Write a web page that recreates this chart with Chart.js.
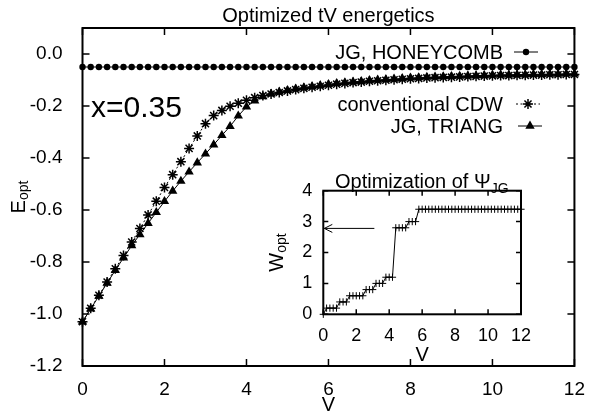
<!DOCTYPE html>
<html><head><meta charset="utf-8">
<script src="https://cdn.jsdelivr.net/npm/chart.js@4"></script>
<style>
html,body{margin:0;padding:0;background:#fff;}
#wrap{position:relative;width:589px;height:411px;overflow:hidden;background:#fff;}
#wrap canvas{position:absolute;left:0;top:0;}
</style></head><body>
<div id="wrap"><canvas id="main" width="589" height="411"></canvas><canvas id="inset" width="589" height="411"></canvas></div>
<script>
// ---- data ----
const V = [0,0.2,0.4,0.6,0.8,1.0,1.2,1.4,1.6,1.8,2.0,2.2,2.4,2.6,2.8,3.0,3.2,3.4,3.6,3.8,4.0,4.2,4.4,4.6,4.8,5.0,5.2,5.4,5.6,5.8,6.0,6.2,6.4,6.6,6.8,7.0,7.2,7.4,7.6,7.8,8.0,8.2,8.4,8.6,8.8,9.0,9.2,9.4,9.6,9.8,10.0,10.2,10.4,10.6,10.8,11.0,11.2,11.4,11.6,11.8,12.0];
const honeycomb = [-0.05,-0.05,-0.05,-0.05,-0.05,-0.05,-0.05,-0.05,-0.05,-0.05,-0.05,-0.05,-0.05,-0.05,-0.05,-0.05,-0.05,-0.05,-0.05,-0.05,-0.05,-0.05,-0.05,-0.05,-0.05,-0.05,-0.05,-0.05,-0.05,-0.05,-0.05,-0.05,-0.05,-0.05,-0.05,-0.05,-0.05,-0.05,-0.05,-0.05,-0.05,-0.05,-0.05,-0.05,-0.05,-0.05,-0.05,-0.05,-0.05,-0.05,-0.05,-0.05,-0.05,-0.05,-0.05,-0.05,-0.05,-0.05,-0.05,-0.05,-0.05];
const cdw = [-1.030,-0.978,-0.928,-0.877,-0.826,-0.775,-0.723,-0.671,-0.619,-0.566,-0.513,-0.464,-0.414,-0.363,-0.315,-0.268,-0.237,-0.217,-0.201,-0.189,-0.178,-0.168,-0.160,-0.154,-0.148,-0.142,-0.137,-0.132,-0.128,-0.124,-0.120,-0.116,-0.113,-0.110,-0.108,-0.105,-0.103,-0.101,-0.099,-0.097,-0.095,-0.094,-0.092,-0.091,-0.090,-0.089,-0.088,-0.087,-0.086,-0.085,-0.084,-0.083,-0.083,-0.082,-0.082,-0.081,-0.081,-0.080,-0.080,-0.079,-0.079];
const triang = [-1.030,-0.980,-0.931,-0.881,-0.832,-0.784,-0.737,-0.694,-0.651,-0.609,-0.567,-0.527,-0.489,-0.453,-0.418,-0.384,-0.349,-0.313,-0.278,-0.238,-0.203,-0.180,-0.164,-0.153,-0.146,-0.140,-0.134,-0.129,-0.125,-0.121,-0.117,-0.113,-0.110,-0.107,-0.105,-0.102,-0.100,-0.098,-0.096,-0.094,-0.092,-0.091,-0.089,-0.088,-0.087,-0.086,-0.085,-0.084,-0.083,-0.082,-0.081,-0.080,-0.080,-0.079,-0.079,-0.078,-0.078,-0.077,-0.077,-0.076,-0.076];
const wopt = [0,0.2,0.2,0.2,0.2,0.4,0.4,0.4,0.6,0.6,0.6,0.6,0.6,0.8,0.8,0.8,1.0,1.0,1.0,1.2,1.2,1.2,2.8,2.8,2.8,2.8,3.0,3.0,3.0,3.4,3.4,3.4,3.4,3.4,3.4,3.4,3.4,3.4,3.4,3.4,3.4,3.4,3.4,3.4,3.4,3.4,3.4,3.4,3.4,3.4,3.4,3.4,3.4,3.4,3.4,3.4,3.4,3.4,3.4,3.4,3.4];
const xTicks = [0,2,4,6,8,10,12];
const yTicks = [-1.2,-1.0,-0.8,-0.6,-0.4,-0.2,0.0];
const insetXTicks = [0,2,4,6,8,10,12];
const insetYTicks = [0,1,2,3,4];
const seriesNames = ['JG, HONEYCOMB','conventional CDW','JG, TRIANG'];
const chartTitle = 'Optimized tV energetics';
const insetTitle = 'Optimization of \u03A8';
const insetTitleSub = 'JG';
const annotationText = 'x=0.35';
const arrowFrom = [3.1, 2.78];
const arrowTo = [0, 2.78];

// ---- helpers ----
const FONT = '"Liberation Sans", Arial, Helvetica, sans-serif';
const pts = (xs, ys) => xs.map((x, i) => ({x: x, y: ys[i]}));

function drawFrame(chart, tickLen, xt, yt) {
  const {ctx, chartArea: a, scales} = chart;
  ctx.save();
  ctx.strokeStyle = '#000';
  ctx.lineWidth = 2;
  ctx.strokeRect(a.left, a.top, a.right - a.left, a.bottom - a.top);
  ctx.lineWidth = 1.5;
  ctx.beginPath();
  xt.forEach(v => {
    const x = scales.x.getPixelForValue(v);
    ctx.moveTo(x, a.bottom); ctx.lineTo(x, a.bottom - tickLen);
    ctx.moveTo(x, a.top); ctx.lineTo(x, a.top + tickLen);
  });
  yt.forEach(v => {
    const y = scales.y.getPixelForValue(v);
    ctx.moveTo(a.left, y); ctx.lineTo(a.left + tickLen, y);
    ctx.moveTo(a.right, y); ctx.lineTo(a.right - tickLen, y);
  });
  ctx.stroke();
  ctx.restore();
}

function drawRotatedSub(ctx, cx, cy, main, sub, size, subSize, shift) {
  ctx.save();
  ctx.translate(cx, cy);
  ctx.rotate(-Math.PI / 2);
  ctx.fillStyle = '#000';
  ctx.textAlign = 'left';
  ctx.textBaseline = 'alphabetic';
  ctx.font = size + 'px ' + FONT;
  const w1 = ctx.measureText(main).width;
  ctx.font = subSize + 'px ' + FONT;
  const w2 = ctx.measureText(sub).width;
  const x0 = -(w1 + w2) / 2;
  ctx.font = size + 'px ' + FONT;
  ctx.fillText(main, x0, 0);
  ctx.font = subSize + 'px ' + FONT;
  ctx.fillText(sub, x0 + w1, shift);
  ctx.restore();
}

function marker(ctx, style, x, y, r) {
  ctx.save();
  ctx.fillStyle = '#000'; ctx.strokeStyle = '#000'; ctx.lineWidth = 1.5;
  ctx.setLineDash([]);
  ctx.beginPath();
  if (style === 'circle') {
    ctx.arc(x, y, r, 0, Math.PI * 2); ctx.fill();
  } else if (style === 'triangle') {
    ctx.moveTo(x, y - r); ctx.lineTo(x + r * 0.866, y + r * 0.5); ctx.lineTo(x - r * 0.866, y + r * 0.5); ctx.closePath(); ctx.fill();
  } else if (style === 'star') {
    ctx.moveTo(x - r, y); ctx.lineTo(x + r, y);
    ctx.moveTo(x, y - r); ctx.lineTo(x, y + r);
    const d = r * 0.707;
    ctx.moveTo(x - d, y - d); ctx.lineTo(x + d, y + d);
    ctx.moveTo(x - d, y + d); ctx.lineTo(x + d, y - d);
    ctx.stroke();
  }
  ctx.restore();
}

const mainDeco = {
  id: 'mainDeco',
  afterDraw(chart) {
    const ctx = chart.ctx;
    drawFrame(chart, 7, xTicks, yTicks);
    ctx.save();
    ctx.fillStyle = '#000';
    ctx.font = '20px ' + FONT;
    ctx.textAlign = 'center'; ctx.textBaseline = 'alphabetic';
    const a = chart.chartArea;
    ctx.fillText('V', (a.left + a.right) / 2, 411);
    ctx.font = '30px ' + FONT;
    ctx.textAlign = 'left';
    ctx.fillText(annotationText, 91, 117);
    ctx.font = '20px ' + FONT;
    ctx.textAlign = 'right';
    const rows = [59, 111, 133];
    const styles = ['circle', 'star', 'triangle'];
    const dashes = [[], [2, 2.5], []];
    const mx = [526, 528, 530];
    const rr = [3.2, 5, 5.4];
    rows.forEach((by, i) => {
      ctx.fillText(seriesNames[i], 503, by);
      const cy = by - 7;
      ctx.save();
      ctx.strokeStyle = '#000'; ctx.lineWidth = 1;
      ctx.setLineDash(dashes[i]);
      ctx.beginPath(); ctx.moveTo(mx[i] - 12, cy); ctx.lineTo(mx[i] + 12, cy); ctx.stroke();
      ctx.restore();
      marker(ctx, styles[i], mx[i], cy, rr[i]);
    });
    ctx.restore();
    drawRotatedSub(ctx, 25, (a.top + a.bottom) / 2, 'E', 'opt', 20, 14, 3);
  }
};

const insetDeco = {
  id: 'insetDeco',
  afterDraw(chart) {
    const ctx = chart.ctx;
    const a = chart.chartArea;
    drawFrame(chart, 5, insetXTicks, insetYTicks);
    const sx = chart.scales.x, sy = chart.scales.y;
    const x1 = sx.getPixelForValue(arrowFrom[0]), y1 = sy.getPixelForValue(arrowFrom[1]);
    const x2 = sx.getPixelForValue(arrowTo[0]), y2 = sy.getPixelForValue(arrowTo[1]);
    ctx.save();
    ctx.strokeStyle = '#000'; ctx.lineWidth = 1;
    ctx.beginPath();
    ctx.moveTo(x1, y1); ctx.lineTo(x2 + 1, y2);
    ctx.moveTo(x2 + 9, y2 - 4); ctx.lineTo(x2 + 1, y2); ctx.lineTo(x2 + 9, y2 + 4);
    ctx.stroke();
    ctx.fillStyle = '#000';
    ctx.textBaseline = 'alphabetic';
    ctx.textAlign = 'left';
    ctx.font = '20px ' + FONT;
    ctx.fillText(insetTitle, 335, 188);
    const w = ctx.measureText(insetTitle).width;
    ctx.font = '14px ' + FONT;
    ctx.fillText(insetTitleSub, 335 + w, 193);
    ctx.font = '20px ' + FONT;
    ctx.textAlign = 'center';
    ctx.fillText('V', (a.left + a.right) / 2, 361);
    ctx.restore();
    drawRotatedSub(ctx, 283, (a.top + a.bottom) / 2, 'W', 'opt', 20, 14, 3);
  }
};

Chart.defaults.font.family = FONT;
Chart.defaults.color = '#000';

new Chart(document.getElementById('main'), {
  type: 'line',
  data: {
    datasets: [
      { label: seriesNames[0], data: pts(V, honeycomb), borderColor: '#000', backgroundColor: '#000', borderWidth: 1.2,
        pointStyle: 'circle', pointRadius: 3.2, pointBorderWidth: 0, clip: false },
      { label: seriesNames[1], data: pts(V, cdw), borderColor: '#000', backgroundColor: '#000', borderWidth: 1, borderDash: [2, 2.5],
        pointStyle: 'star', pointRadius: 5, pointBorderWidth: 1.5, clip: false },
      { label: seriesNames[2], data: pts(V, triang), borderColor: '#000', backgroundColor: '#000', borderWidth: 1,
        pointStyle: 'triangle', pointRadius: 5.4, pointBorderWidth: 0, clip: false }
    ]
  },
  options: {
    responsive: false, animation: false, devicePixelRatio: 1,
    layout: { padding: { left: 0, right: 13, top: 0, bottom: 0 } },
    plugins: {
      legend: { display: false }, tooltip: { enabled: false },
      title: { display: true, text: chartTitle, fullSize: false, color: '#000',
        font: { size: 20, weight: 'normal', family: FONT }, padding: { top: 4, bottom: 0 } }
    },
    scales: {
      x: { type: 'linear', min: 0, max: 12,
        afterBuildTicks: s => { s.ticks = xTicks.map(v => ({ value: v })); },
        afterFit: s => { s.height = 45; },
        grid: { display: false }, border: { display: false },
        ticks: { padding: 4, font: { size: 19 }, color: '#000', maxRotation: 0 } },
      y: { type: 'linear', min: -1.2, max: 0.1,
        afterBuildTicks: s => { s.ticks = yTicks.map(v => ({ value: v })); },
        afterFit: s => { s.width = 82.5; },
        grid: { display: false }, border: { display: false },
        ticks: { padding: 12, font: { size: 19 }, color: '#000', callback: v => Number(v).toFixed(1) } }
    }
  },
  plugins: [mainDeco]
});

new Chart(document.getElementById('inset'), {
  type: 'line',
  data: {
    datasets: [
      { label: 'Wopt', data: pts(V, wopt), borderColor: '#000', backgroundColor: '#000', borderWidth: 1,
        pointStyle: 'cross', pointRadius: 3.6, pointBorderWidth: 1, clip: false }
    ]
  },
  options: {
    responsive: false, animation: false, devicePixelRatio: 1,
    layout: { padding: { left: 293.3, right: 68, top: 190.7, bottom: 51.7 } },
    plugins: { legend: { display: false }, tooltip: { enabled: false }, title: { display: false } },
    scales: {
      x: { type: 'linear', min: 0, max: 12,
        afterBuildTicks: s => { s.ticks = insetXTicks.map(v => ({ value: v })); },
        afterFit: s => { s.height = 45; },
        grid: { display: false }, border: { display: false },
        ticks: { padding: 3, font: { size: 18 }, color: '#000', maxRotation: 0 } },
      y: { type: 'linear', min: 0, max: 4,
        afterBuildTicks: s => { s.ticks = insetYTicks.map(v => ({ value: v })); },
        afterFit: s => { s.width = 30; },
        grid: { display: false }, border: { display: false },
        ticks: { padding: 3, font: { size: 18 }, color: '#000' } }
    }
  },
  plugins: [insetDeco]
});
</script>
</body></html>
